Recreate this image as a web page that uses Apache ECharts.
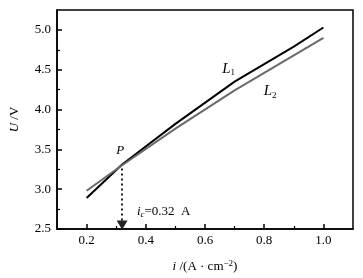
<!DOCTYPE html>
<html>
<head>
<meta charset="utf-8">
<script src="https://cdn.jsdelivr.net/npm/echarts@6/dist/echarts.min.js"></script>
<style>
  html, body { margin: 0; padding: 0; background: #fff; }
  #chart { width: 363px; height: 278px; }
</style>
</head>
<body>
<div id="chart"></div>
<script>
// data
var xL1 = [0.2, 0.32, 0.5, 0.7, 0.9, 1.0];
var yL1 = [2.89, 3.31, 3.82, 4.35, 4.79, 5.03];
var xL2 = [0.2, 0.32, 0.5, 0.7, 0.9, 1.0];
var yL2 = [2.98, 3.30, 3.76, 4.24, 4.68, 4.90];
var pointP = [0.32, 3.31];
var arrowFrom = [0.32, 3.26];
var arrowTo = [0.32, 2.55];
var xMajor = [0.2, 0.4, 0.6, 0.8, 1.0];
var xMinor = [0.3, 0.5, 0.7, 0.9];
var yMajor = [2.5, 3.0, 3.5, 4.0, 4.5, 5.0];
var yMinor = [2.75, 3.25, 3.75, 4.25, 4.75];

var FONT = '"Liberation Serif", "Times New Roman", serif';

function pairs(xs, ys) {
  return xs.map(function (x, i) { return [x, ys[i]]; });
}

var chart = echarts.init(document.getElementById('chart'));

var axisLineStyle = { color: '#000', width: 1.5 };

var option = {
  animation: false,
  backgroundColor: '#fff',
  grid: {
    left: 51, right: 10, top: 10, bottom: 44,
    show: true, borderColor: '#000', borderWidth: 1.5
  },
  xAxis: [
    {
      type: 'value', min: 0.1, max: 1.1,
      name: '{it|i} /(A · cm{sup|−2})',
      nameLocation: 'middle', nameGap: 30,
      nameTextStyle: {
        fontFamily: FONT, fontSize: 13, color: '#000',
        rich: {
          it: { fontFamily: FONT, fontStyle: 'italic', fontSize: 13 },
          sup: { fontFamily: FONT, fontSize: 9, padding: [0, 0, 6, 0] }
        }
      },
      axisLine: { lineStyle: axisLineStyle },
      axisTick: { inside: true, length: 5, customValues: xMajor, lineStyle: { width: 1.5, color: '#000' } },
      axisLabel: { customValues: xMajor, margin: 5, fontFamily: FONT, fontSize: 13, color: '#000',
        formatter: function (v) { return v.toFixed(1); } },
      splitLine: { show: false }
    },
    {
      type: 'value', min: 0.1, max: 1.1, position: 'bottom',
      axisLine: { show: false },
      axisTick: { inside: true, length: 3, customValues: xMinor, lineStyle: { width: 1.2, color: '#000' } },
      axisLabel: { show: false },
      splitLine: { show: false }
    }
  ],
  yAxis: [
    {
      type: 'value', min: 2.5, max: 5.25,
      name: '{it|U} /V',
      nameLocation: 'middle', nameRotate: 90, nameGap: 36,
      nameTextStyle: {
        fontFamily: FONT, fontSize: 13, color: '#000',
        rich: { it: { fontFamily: FONT, fontStyle: 'italic', fontSize: 13 } }
      },
      axisLine: { lineStyle: axisLineStyle },
      axisTick: { inside: true, length: 5, customValues: yMajor, lineStyle: { width: 1.5, color: '#000' } },
      axisLabel: { customValues: yMajor, margin: 6, fontFamily: FONT, fontSize: 13, color: '#000',
        formatter: function (v) { return v.toFixed(1); } },
      splitLine: { show: false }
    },
    {
      type: 'value', min: 2.5, max: 5.25, position: 'left',
      axisLine: { show: false },
      axisTick: { inside: true, length: 3, customValues: yMinor, lineStyle: { width: 1.2, color: '#000' } },
      axisLabel: { show: false },
      splitLine: { show: false }
    }
  ],
  series: [
    {
      name: 'L1', type: 'line', data: pairs(xL1, yL1),
      showSymbol: false, lineStyle: { color: '#000', width: 2 }
    },
    {
      name: 'L2', type: 'line', data: pairs(xL2, yL2),
      showSymbol: false, lineStyle: { color: '#6a6a6a', width: 2 }
    },
    {
      name: 'guide', type: 'line', data: [],
      markLine: {
        silent: true,
        symbol: ['none', 'triangle'],
        symbolSize: [11, 9],
        label: { show: false },
        lineStyle: { type: [2, 3], color: '#222', width: 2 },
        itemStyle: { color: '#222' },
        data: [[{ coord: arrowFrom }, { coord: arrowTo }]]
      }
    }
  ]
};

chart.setOption(option);

// text annotations anchored on data coordinates
function px(pt) { return chart.convertToPixel({ xAxisIndex: 0, yAxisIndex: 0 }, pt); }
var pP = px(pointP);
var pL1 = px([0.68, 4.51]);
var pL2 = px([0.82, 4.23]);
var pIc = px([0.37, 2.72]);

var subRich = {
  it: { fontFamily: FONT, fontStyle: 'italic', fontSize: 15, color: '#000' },
  sub: { fontFamily: FONT, fontSize: 9, color: '#000', padding: [8, 0, 0, 0] },
  n: { fontFamily: FONT, fontSize: 13, color: '#000' },
  itsub: { fontFamily: FONT, fontStyle: 'italic', fontSize: 9, color: '#000', padding: [7, 0, 0, 0] },
  itn: { fontFamily: FONT, fontStyle: 'italic', fontSize: 13, color: '#000' }
};

chart.setOption({
  graphic: [
    { type: 'text', x: pP[0] - 2, y: pP[1] - 14,
      style: { text: 'P', font: 'italic 13px ' + FONT, fill: '#000', align: 'center', verticalAlign: 'middle' } },
    { type: 'text', x: pL1[0], y: pL1[1],
      style: { text: '{it|L}{sub|1}', rich: subRich, align: 'center', verticalAlign: 'middle' } },
    { type: 'text', x: pL2[0], y: pL2[1],
      style: { text: '{it|L}{sub|2}', rich: subRich, align: 'center', verticalAlign: 'middle' } },
    { type: 'text', x: pIc[0], y: pIc[1],
      style: { text: '{itn|i}{itsub|c}{n|=0.32  A}', rich: subRich, align: 'left', verticalAlign: 'middle' } }
  ]
});
</script>
</body>
</html>
